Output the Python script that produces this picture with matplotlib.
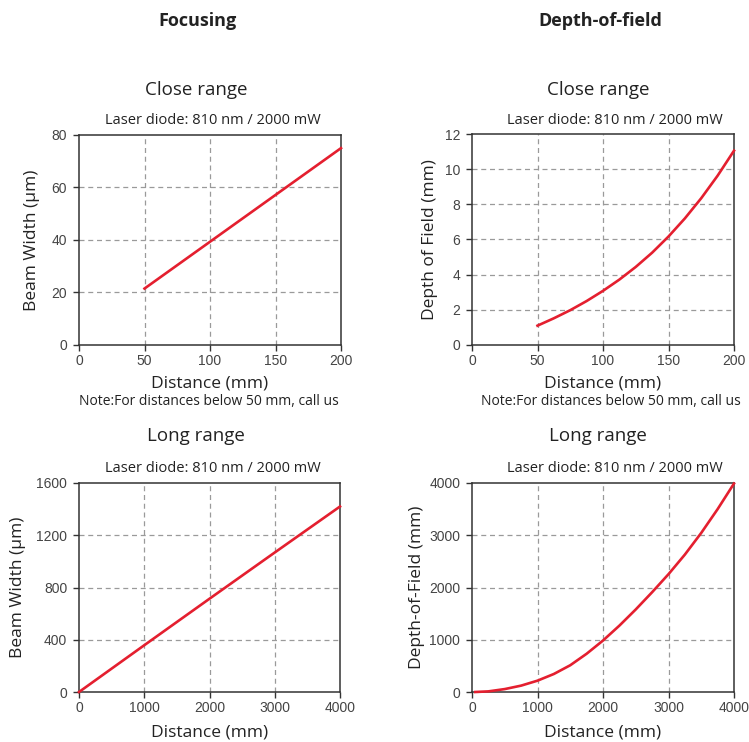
import matplotlib
matplotlib.use("Agg")
import matplotlib.pyplot as plt
from matplotlib.ticker import FixedLocator

W, H = 749, 742

# close range, focusing
close_dist = [50, 200]
close_beam = [21.5, 75.0]

# close range, depth of field
close_dof_dist = [50, 62.5, 75, 87.5, 100, 112.5, 125, 137.5, 150, 162.5, 175, 187.5, 200]
close_dof = [1.10, 1.52, 1.98, 2.50, 3.08, 3.72, 4.44, 5.25, 6.17, 7.20, 8.35, 9.63, 11.05]

# long range, focusing
long_dist = [0, 1000, 2000, 3000, 4000]
long_beam = [0, 358, 714, 1068, 1420]

# long range, depth of field
long_dof_dist = [50, 250, 500, 750, 1000, 1250, 1500, 1750, 2000, 2250, 2500,
                 2750, 3000, 3250, 3500, 3750, 4000]
long_dof = [0, 12, 56, 122, 217, 345, 512, 732, 985, 1270, 1580,
            1910, 2255, 2630, 3045, 3500, 3990]

title_font = "Open Sans"
tick_font = "Liberation Sans"
red = "#e41f2f"
dark = "#222222"


def px(x, y):
    return x / W, 1 - y / H


def make_axes(fig, left, top, right, bottom):
    x0, y0 = px(left, bottom)
    x1, y1 = px(right, top)
    return fig.add_axes([x0, y0, x1 - x0, y1 - y0])


def style(ax, xlim, ylim, xticks, yticks, ylabel, ypad, xpad):
    ax.set_xlim(*xlim)
    ax.set_ylim(*ylim)
    ax.xaxis.set_major_locator(FixedLocator(xticks))
    ax.yaxis.set_major_locator(FixedLocator(yticks))
    for t in xticks[1:-1]:
        ax.axvline(t, color="#9a9a9a", lw=0.9, ls=(0, (4, 3)), zorder=1)
    for t in yticks[1:-1]:
        ax.axhline(t, color="#9a9a9a", lw=0.9, ls=(0, (4, 3)), zorder=1)
    for s in ax.spines.values():
        s.set_color("#333333")
        s.set_linewidth(1.1)
    ax.tick_params(direction="out", length=4.5, width=1, color="#333333",
                   labelsize=10, labelcolor="#444444")
    ax.tick_params(axis="x", pad=2)
    ax.tick_params(axis="y", pad=4)
    for lab in ax.get_xticklabels() + ax.get_yticklabels():
        lab.set_fontfamily(tick_font)
    ax.set_ylabel(ylabel, fontsize=12.5, color=dark, family=title_font, labelpad=ypad)
    ax.set_xlabel("Distance (mm)", fontsize=12.5, color=dark, family=title_font, labelpad=xpad)


fig = plt.figure(figsize=(W / 100, H / 100), dpi=100)

ax1 = make_axes(fig, 79, 135, 341, 345)
ax1.plot(close_dist, close_beam, color=red, lw=1.9, zorder=3)
style(ax1, (0, 200), (0, 80), [0, 50, 100, 150, 200], [0, 20, 40, 60, 80],
      "Beam Width (µm)", 8, 5.5)

ax2 = make_axes(fig, 472, 134, 734, 345)
ax2.plot(close_dof_dist, close_dof, color=red, lw=1.9, zorder=3)
style(ax2, (0, 200), (0, 12), [0, 50, 100, 150, 200], [0, 2, 4, 6, 8, 10, 12],
      "Depth of Field (mm)", 5, 5.5)

ax3 = make_axes(fig, 79, 483, 340, 692)
ax3.plot(long_dist, long_beam, color=red, lw=1.9, zorder=3)
style(ax3, (0, 4000), (0, 1600), [0, 1000, 2000, 3000, 4000], [0, 400, 800, 1200, 1600],
      "Beam Width (µm)", 7, 7)

ax4 = make_axes(fig, 472, 483, 734, 692)
ax4.plot(long_dof_dist, long_dof, color=red, lw=1.9, zorder=3)
style(ax4, (0, 4000), (0, 4000), [0, 1000, 2000, 3000, 4000], [0, 1000, 2000, 3000, 4000],
      "Depth-of-Field (mm)", 3, 7)

for ax in (ax1, ax2, ax3, ax4):
    for line in ax.lines:
        line.set_clip_on(False)
        line.set_solid_joinstyle("round")

# column headers
fig.text(*px(197, 21), "Focusing", ha="center", va="center", fontsize=13,
         fontweight="bold", family=title_font, color=dark)
fig.text(*px(600, 21), "Depth-of-field", ha="center", va="center", fontsize=13,
         fontweight="bold", family=title_font, color=dark)

for cx in (196, 598):
    fig.text(*px(cx, 90), "Close range", ha="center", va="center", fontsize=13.5,
             family=title_font, color=dark)
    fig.text(*px(cx + 17, 120), "Laser diode: 810 nm / 2000 mW", ha="center", va="center",
             fontsize=10.5, family=title_font, color=dark)
    fig.text(*px(cx + 13, 401), "Note:For distances below 50 mm, call us", ha="center",
             va="center", fontsize=10, family=title_font, color=dark)
    fig.text(*px(cx, 436), "Long range", ha="center", va="center", fontsize=13.5,
             family=title_font, color=dark)
    fig.text(*px(cx + 17, 468), "Laser diode: 810 nm / 2000 mW", ha="center", va="center",
             fontsize=10.5, family=title_font, color=dark)

fig.savefig("out.png", dpi=100, facecolor="white")
